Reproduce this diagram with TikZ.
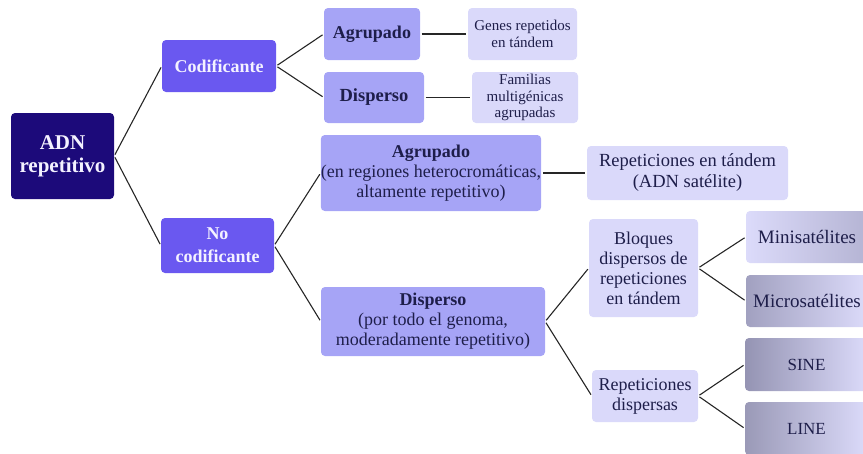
\documentclass[tikz,border=0pt]{standalone}
\usepackage{fontspec}
\setmainfont{Liberation Serif}
\definecolor{navy}{HTML}{1C0A7A}
\definecolor{violet}{HTML}{6A58F0}
\definecolor{lilac}{HTML}{A6A4F6}
\definecolor{pale}{HTML}{DAD9FA}
\definecolor{ink}{HTML}{1E1E4A}
\definecolor{snow}{HTML}{F4F2FF}
\newcommand{\fs}[2]{\fontsize{#1}{#2}\selectfont}
\tikzset{
  box/.style={rectangle, rounded corners=4pt, inner sep=0pt, align=center, text=ink},
  rootbox/.style={box, fill=navy, text=snow, font=\bfseries\fs{21}{23}},
  lvone/.style={box, fill=violet, text=snow, font=\bfseries\fs{18}{23}},
  lvtwo/.style={box, fill=lilac},
  leafbox/.style={box, fill=pale},
  link/.style={draw=black!85, line width=1.1pt, shorten >=1.5pt, shorten <=1.5pt}
}
\begin{document}
\begin{tikzpicture}[x=1pt, y=-1pt]
\useasboundingbox (0,0) rectangle (863,453);

% root and first level
\node[rootbox, minimum width=103pt, minimum height=86pt] (adn) at (62.5,156) {ADN\\repetitivo};
\node[lvone, minimum width=114pt, minimum height=52pt] (cod) at (219,66) {Codificante};
\node[lvone, minimum width=113pt, minimum height=55pt] (nocod) at (217.5,245.5) {No\\codificante};

% coding branch
\node[lvtwo, font=\bfseries\fs{18}{21}, minimum width=96pt, minimum height=52pt] (agr) at (372,34) {Agrupado};
\node[lvtwo, font=\bfseries\fs{18.5}{21}, minimum width=100pt, minimum height=51pt] (dis) at (374,97.5) {Disperso};
\node[leafbox, font=\fs{15}{17.5}, minimum width=109pt, minimum height=52pt] (genes) at (522.5,34) {Genes repetidos\\en tándem};
\node[leafbox, font=\fs{15}{16.5}, minimum width=106pt, minimum height=51pt] (fam) at (525,97.5) {Familias\\multigénicas\\agrupadas};

% non-coding branch
\node[lvtwo, font=\fs{18}{20}, minimum width=220pt, minimum height=76pt] (agrnc) at (431,173)
  {{\bfseries Agrupado}\\(en regiones heterocromáticas,\\altamente repetitivo)};
\node[lvtwo, font=\fs{18}{20}, minimum width=224pt, minimum height=69pt] (disnc) at (433,321.5)
  {{\bfseries Disperso}\\(por todo el genoma,\\moderadamente repetitivo)};
\node[leafbox, font=\fs{18.5}{21}, minimum width=201pt, minimum height=54pt] (sat) at (687.5,173)
  {Repeticiones en tándem\\(ADN satélite)};
\node[leafbox, font=\fs{18}{20}, minimum width=109pt, minimum height=98pt] (bloq) at (643.5,268)
  {Bloques\\dispersos de\\repeticiones\\en tándem};
\node[leafbox, font=\fs{18}{20}, minimum width=106pt, minimum height=52pt] (repd) at (645,396)
  {Repeticiones\\dispersas};

% shaded end boxes
\node[box, left color=pale!95!white, right color=lilac!55!gray!70, font=\fs{19}{22},
      minimum width=122pt, minimum height=52pt] (mini) at (807,237) {Minisatélites};
\node[box, left color=lilac!45!gray!85, right color=pale!95!white, font=\fs{19}{22},
      minimum width=122pt, minimum height=52pt] (micro) at (807,301) {Microsatélites};
\node[box, left color=lilac!40!gray!95, right color=pale!95!white, font=\fs{17}{20},
      minimum width=123pt, minimum height=53pt] (sine) at (806.5,364.5) {SINE};
\node[box, left color=lilac!40!gray!90, right color=pale!95!white, font=\fs{17}{20},
      minimum width=123pt, minimum height=53pt] (line) at (806.5,428.5) {LINE};

% connectors
\draw[link] (adn.east) -- (cod.west);
\draw[link] (adn.east) -- (nocod.west);
\draw[link] (cod.east) -- (agr.west);
\draw[link] (cod.east) -- (dis.west);
\draw[link] (agr.east) -- (genes.west);
\draw[link] (dis.east) -- (fam.west);
\draw[link] (nocod.east) -- (agrnc.west);
\draw[link] (nocod.east) -- (disnc.west);
\draw[link] (agrnc.east) -- (sat.west);
\draw[link] (disnc.east) -- (bloq.west);
\draw[link] (disnc.east) -- (repd.west);
\draw[link] (bloq.east) -- (mini.west);
\draw[link] (bloq.east) -- (micro.west);
\draw[link] (repd.east) -- (sine.west);
\draw[link] (repd.east) -- (line.west);
\end{tikzpicture}
\end{document}
